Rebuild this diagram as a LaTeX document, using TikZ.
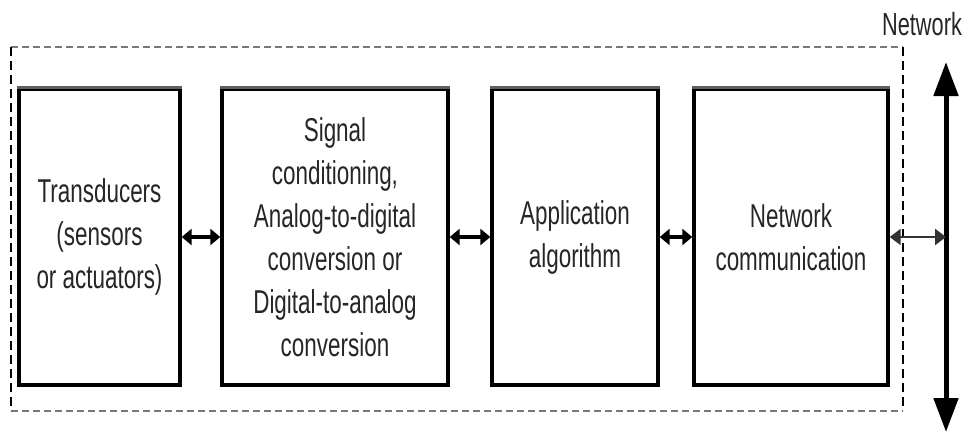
\documentclass[tikz,border=0pt]{standalone}
\usepackage{fontspec}
\setmainfont[FakeStretch=0.68]{Liberation Sans}
\usetikzlibrary{arrows.meta}
\definecolor{edgegray}{RGB}{95,95,95}
\definecolor{dashgray}{RGB}{120,120,120}
\begin{document}
\begin{tikzpicture}[x=1pt,y=-1pt,
  blockbox/.style={draw=black,line width=3.4pt,fill=white,rectangle,
    minimum height=296pt,inner sep=0pt,align=center,text=black!85,
    font=\fontsize{33}{43}\selectfont},
  linkarrow/.style={line width=4pt,{Triangle[length=10pt,width=16pt]}-{Triangle[length=10pt,width=16pt]}},
  busarrow/.style={line width=5pt,{Triangle[length=34pt,width=24pt]}-{Triangle[length=34pt,width=24pt]}},
  lbl/.style={font=\fontsize{32}{40}\selectfont,text=black!85,inner sep=0pt}]
\useasboundingbox (0,0) rectangle (967,432);

% enclosing dashed frame
\draw[dashgray,line width=2.2pt,dash pattern=on 7pt off 4pt] (11,47) -- (903,47);
\draw[dashgray,line width=2.2pt,dash pattern=on 7pt off 4pt] (11,411) -- (903,411);
\draw[black,line width=2.2pt,dash pattern=on 9pt off 5pt] (11,47) -- (11,411);
\draw[black,line width=2.2pt,dash pattern=on 9pt off 5pt] (903,47) -- (903,411);

% processing blocks
\node[blockbox,minimum width=161pt] (td) at (99.5,237) {Transducers\\(sensors\\or actuators)};
\node[blockbox,minimum width=226pt] (sc) at (335,237) {Signal\\conditioning,\\Analog-to-digital\\conversion or\\Digital-to-analog\\conversion};
\node[blockbox,minimum width=166pt] (app) at (575,237) {Application\\algorithm};
\node[blockbox,minimum width=194pt] (nc) at (791,237) {Network\\communication};

% shaded top edges
\foreach \b in {td,sc,app,nc}{
  \draw[edgegray,line width=3.4pt] (\b.north west) -- (\b.north east);
}

% network bus
\coordinate (bustop) at (946,62);
\coordinate (busbot) at (946,432);
\coordinate (bustap) at (946,237);
\draw[busarrow] (busbot) -- (bustop);
\node[lbl] (netlbl) at (922,24) {Network};

% links between blocks
\draw[linkarrow] (td.east) -- (sc.west);
\draw[linkarrow] (sc.east) -- (app.west);
\draw[linkarrow] (app.east) -- (nc.west);
\draw[line width=2.6pt,black!80,{Triangle[length=11pt,width=16pt]}-{Triangle[length=11pt,width=16pt]}] (nc.east) -- (bustap);
\end{tikzpicture}
\end{document}
